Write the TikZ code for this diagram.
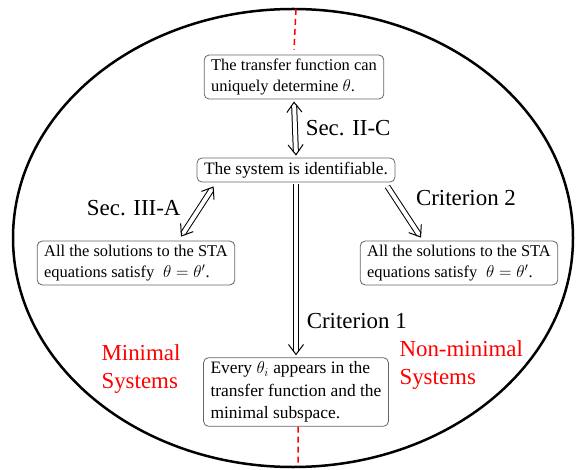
\documentclass[tikz,border=0pt]{standalone}
\usepackage{fontspec}
\setmainfont{Liberation Serif}
\usetikzlibrary{arrows.meta}
\usetikzlibrary{decorations.markings}

\begin{document}
\begin{tikzpicture}[x=1bp, y=-1bp,
  stabox/.style={draw=black!60, thick, rounded corners=5bp, align=left, inner xsep=7bp, inner ysep=4bp, font=\fontsize{16.5}{21}\selectfont},
  bigbox/.style={stabox, font=\fontsize{17.5}{22.5}\selectfont},
  dblarrow/.style={double, double distance=4bp, line width=1bp, shorten >=3.6bp,
    postaction={decorate, decoration={markings, mark=at position 1 with {\arrow[line width=1bp]{Straight Barb[length=10bp,width=15bp]}}}}},
  dblboth/.style={dblarrow, shorten <=3.6bp,
    postaction={decorate, decoration={markings, mark=at position 0 with {\arrowreversed[line width=1bp]{Straight Barb[length=10bp,width=15bp]}}}}},
  seclabel/.style={font=\fontsize{23}{27}\selectfont},
  syslabel/.style={text=red, align=left, font=\fontsize{23}{28}\selectfont},
  redcut/.style={red, line width=1.5bp, dash pattern=on 6bp off 4bp}]
\useasboundingbox (0,0) rectangle (582,470);
\draw[line width=2.5bp] (293,238) ellipse [x radius=280, y radius=229];
\coordinate (top) at (296,9);
\coordinate (bot) at (298,467);
% boxes
\node[stabox] (tf) at (294,77) {The transfer function can\\uniquely determine $\theta$.};
\node[bigbox] (sys) at (296,170) {The system is identifiable.};
\node[stabox] (sta1) at (136,263) {All the solutions to the STA\\equations satisfy $\;\theta=\theta'$.};
\node[stabox] (sta2) at (459,263) {All the solutions to the STA\\equations satisfy $\;\theta=\theta'$.};
\node[bigbox] (min) at (296,392) {Every $\theta_i$ appears in the\\transfer function and the\\minimal subspace.};
% arrows
\draw[dblboth] ([yshift=-2bp]tf.south) -- ([yshift=2bp]sys.north) node[seclabel, midway, anchor=west, xshift=7bp] (l1) {Sec. II-C};
\draw[dblboth] ([xshift=17bp,yshift=-4bp]sys.south west) -- ([xshift=45bp,yshift=4bp]sta1.north) node[seclabel, midway, anchor=east, xshift=-13bp, yshift=3bp] (l2) {Sec. III-A};
\draw[dblarrow] ([xshift=-8bp,yshift=-4bp]sys.south east) -- ([xshift=-38bp,yshift=3bp]sta2.north) node[seclabel, midway, anchor=west, xshift=8bp, yshift=14bp] (l3) {Criterion 2};
\draw[dblarrow] ([yshift=-2bp]sys.south) -- ([yshift=2bp]min.north) node[seclabel, pos=.8, anchor=west, xshift=7bp] (l4) {Criterion 1};
% system classes
\node[syslabel, anchor=west] (minsys) at (98,369) {Minimal\\Systems};
\node[syslabel, anchor=west] (nonmin) at (396,365) {Non-minimal\\Systems};
\draw[redcut] (top) -- ([yshift=5bp]tf.north);
\draw[redcut] ([xshift=2bp]min.south) -- (bot);
\end{tikzpicture}
\end{document}
